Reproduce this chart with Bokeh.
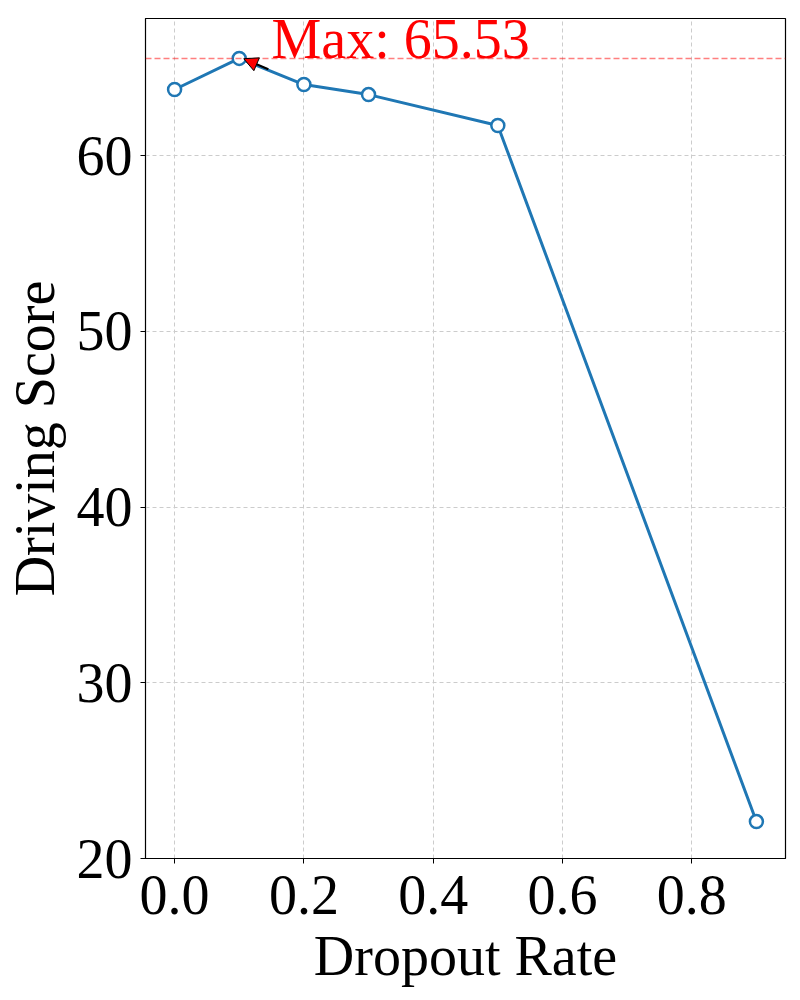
from bokeh.plotting import figure
from bokeh.models import Range1d, FixedTicker, Span, Arrow, NormalHead, ColumnDataSource, PrintfTickFormatter
from bokeh.core.properties import value
from bokeh.embed import file_html
from bokeh.resources import INLINE

dropout = [0.0, 0.1, 0.2, 0.3, 0.5, 0.9]
score = [63.76, 65.53, 64.04, 63.47, 61.71, 22.1]
x_ticks = [0.0, 0.2, 0.4, 0.6, 0.8]
y_ticks = [20, 30, 40, 50, 60]
max_score = max(score)
max_x = dropout[score.index(max_score)]

FONT = "Liberation Serif"

p = figure(frame_width=640, frame_height=840, output_backend="svg", toolbar_location=None,
           x_range=Range1d(-0.045, 0.945), y_range=Range1d(20, 67.8),
           min_border_left=137, min_border_top=18, min_border_right=15, min_border_bottom=134)

p.outline_line_color = "black"
p.outline_line_width = 1.2
p.background_fill_color = "white"

for ax in (p.xaxis[0], p.yaxis[0]):
    ax.major_label_text_font = FONT
    ax.major_label_text_font_size = "56px"
    ax.major_label_text_color = "black"
    ax.axis_label_text_font = FONT
    ax.axis_label_text_font_size = "56px"
    ax.axis_label_text_font_style = "normal"
    ax.axis_label_text_color = "black"
    ax.major_tick_in = 0
    ax.major_tick_out = 5
    ax.major_tick_line_color = "black"
    ax.minor_tick_line_color = None
    ax.axis_line_color = "black"

p.xaxis.major_label_standoff = 12
p.yaxis.major_label_standoff = 8
p.xaxis.ticker = FixedTicker(ticks=x_ticks)
p.yaxis.ticker = FixedTicker(ticks=y_ticks)
p.xaxis.formatter = PrintfTickFormatter(format="%.1f")
p.xaxis.axis_label = "Dropout Rate"
p.yaxis.axis_label = "Driving Score"
p.xaxis.axis_label_standoff = 8
p.yaxis.axis_label_standoff = 8

p.grid.grid_line_color = "#cccccc"
p.grid.grid_line_dash = "4 3"
p.grid.grid_line_width = 1

src = ColumnDataSource(data=dict(x=dropout, y=score))
p.line("x", "y", source=src, line_color="#1f77b4", line_width=3)
p.scatter("x", "y", source=src, size=13, fill_color="white", line_color="#1f77b4", line_width=2.5)

p.add_layout(Span(location=max_score, dimension="width", line_color="red", line_alpha=0.5,
                  line_dash="6 3", line_width=1.5))

p.add_layout(Arrow(end=NormalHead(size=14, fill_color="red", line_color="black", line_width=1),
                   x_start=max_x + 0.045, y_start=max_score - 0.62,
                   x_end=max_x + 0.007, y_end=max_score - 0.02,
                   line_color="black", line_width=2))

p.text(x=[max_x + 0.05], y=[max_score], text=[f"Max: {max_score:.2f}"],
       text_font=value(FONT), text_font_size="56px", text_color="red",
       text_align="left", text_baseline="bottom", y_offset=12)

open("out.html", "w").write(file_html(p, INLINE))
